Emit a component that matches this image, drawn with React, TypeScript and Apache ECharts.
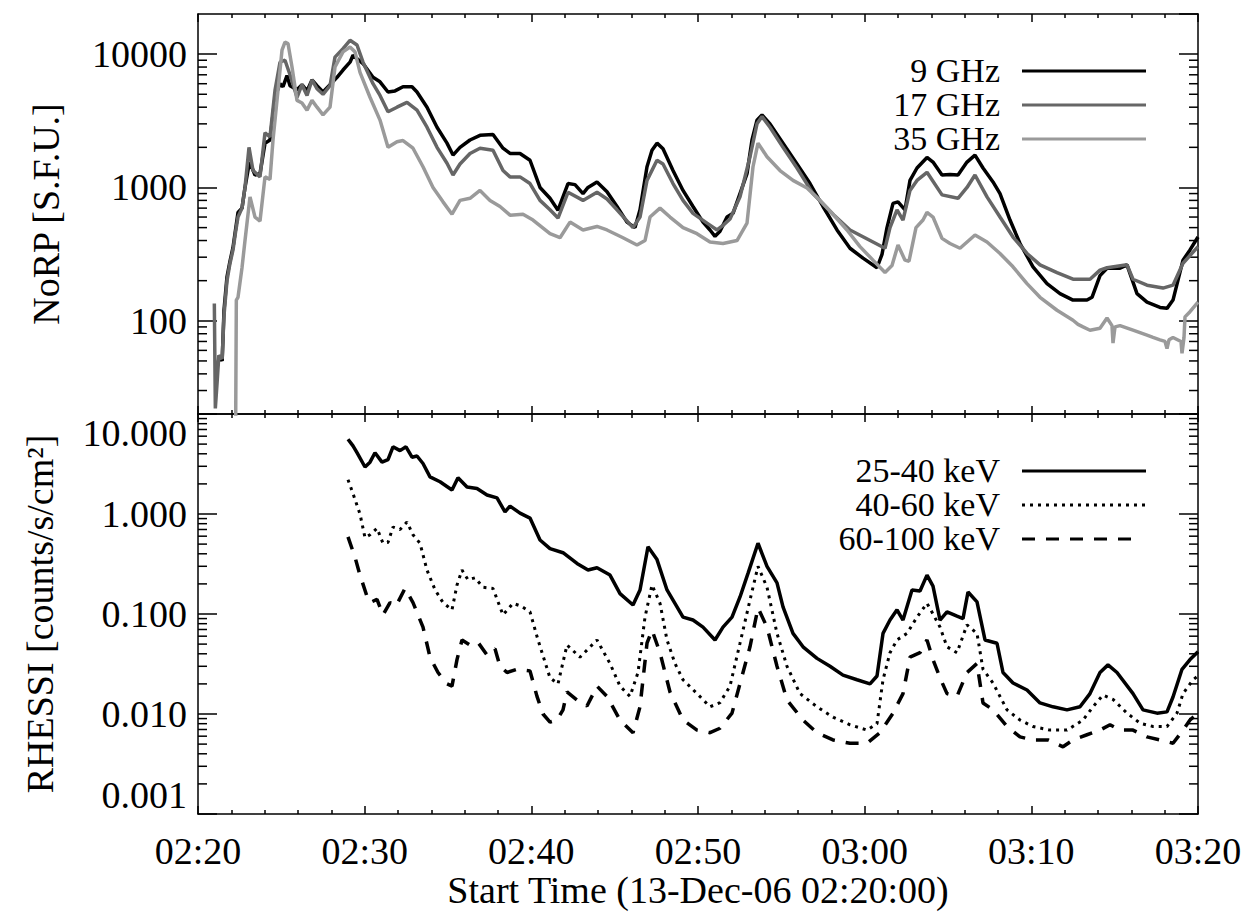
import React, { useEffect, useRef } from 'react';
import * as echarts from 'echarts';

const FONT = 'Liberation Serif, Times New Roman, Times, serif';

const xTickLabels = ['02:20', '02:30', '02:40', '02:50', '03:00', '03:10', '03:20'];
const minorTop = [30, 40, 50, 60, 70, 80, 90, 200, 300, 400, 500, 600, 700, 800, 900, 2000, 3000, 4000, 5000, 6000, 7000, 8000, 9000];
const minorBottom = [0.002, 0.003, 0.004, 0.005, 0.006, 0.007, 0.008, 0.009, 0.02, 0.03, 0.04, 0.05, 0.06, 0.07, 0.08, 0.09, 0.2, 0.3, 0.4, 0.5, 0.6, 0.7, 0.8, 0.9, 2, 3, 4, 5, 6, 7, 8, 9];

const topNames = ['9 GHz', '17 GHz', '35 GHz'];
const bottomNames = ['25-40 keV', '40-60 keV', '60-100 keV'];

// [minutes after 02:20, S.F.U.]
const ghz9 = [[1.15,45],[1.3,55],[1.45,50],[1.56,120],[1.74,214],[1.92,280],[2.1,355],[2.25,480],[2.4,650],[2.64,700],[2.82,1000],[3.0,1350],[3.1,1550],[3.42,1240],[3.72,1270],[4.02,2150],[4.32,2270],[4.62,4750],[4.92,6000],[5.1,5700],[5.34,6900],[5.52,5800],[5.94,5400],[6.24,5900],[6.54,5300],[6.84,6400],[7.14,5800],[7.5,5200],[7.92,5900],[8.34,6700],[8.7,7600],[9.12,8700],[9.3,9800],[9.9,8500],[10.5,6700],[10.92,6200],[11.4,5200],[11.82,5300],[12.3,5700],[12.84,5700],[13.14,5200],[13.74,4000],[14.34,2830],[14.94,2150],[15.3,1750],[15.72,2000],[16.32,2270],[16.92,2460],[17.7,2500],[18.3,1970],[18.72,1800],[19.32,1800],[19.92,1600],[20.52,1000],[21.12,830],[21.6,675],[22.2,1070],[22.62,1050],[23.1,900],[23.4,1000],[23.94,1100],[24.54,930],[25.14,720],[25.74,550],[26.22,500],[26.52,680],[26.94,1430],[27.24,1900],[27.54,2150],[27.9,1950],[28.5,1340],[29.1,950],[29.7,720],[30.3,550],[30.72,480],[31.02,430],[31.32,470],[31.74,600],[32.1,640],[32.52,900],[32.94,1270],[33.24,2270],[33.54,3200],[33.84,3500],[34.32,3000],[35.1,2150],[35.94,1500],[36.72,1070],[37.5,720],[38.34,480],[39.12,350],[39.9,295],[40.74,250],[41.04,315],[41.34,500],[41.7,760],[42.0,780],[42.42,680],[42.72,1130],[43.14,1400],[43.74,1680],[44.1,1550],[44.64,1240],[45.12,1250],[45.6,1240],[46.14,1550],[46.62,1750],[47.1,1400],[47.7,1100],[48.12,900],[48.72,570],[49.32,380],[50.1,254],[50.94,190],[51.72,160],[52.5,143],[53.34,143],[53.64,150],[54.12,218],[54.54,248],[55.32,248],[55.74,263],[56.34,160],[56.94,138],[57.72,126],[58.14,124],[58.5,143],[59.1,285],[59.52,340],[60,425]];
const ghz17 = [[0.98,135],[1.04,22],[1.15,35],[1.25,55],[1.45,52],[1.56,110],[1.74,200],[1.92,270],[2.1,340],[2.25,460],[2.4,600],[2.64,700],[2.82,1000],[3.06,2000],[3.3,1340],[3.72,1200],[4.02,2570],[4.32,2400],[4.62,5350],[4.92,8700],[5.22,9000],[5.52,7000],[5.94,4750],[6.24,5900],[6.54,4900],[6.84,6400],[7.14,5500],[7.5,5000],[7.92,5800],[8.22,9500],[8.7,11000],[9.12,12700],[9.54,11700],[9.9,8700],[10.5,6000],[10.92,4900],[11.4,3700],[11.94,4000],[12.54,4350],[13.14,3800],[13.74,2830],[14.34,2000],[14.94,1520],[15.3,1240],[15.72,1500],[16.32,1800],[16.92,1970],[17.7,1900],[18.3,1340],[18.72,1200],[19.32,1200],[19.92,1070],[20.52,800],[21.12,680],[21.6,590],[22.2,920],[23.1,800],[23.94,920],[24.54,820],[25.14,680],[26.1,500],[26.52,600],[26.94,1130],[27.54,1600],[27.9,1500],[28.5,1070],[29.1,800],[29.7,640],[30.54,540],[31.14,480],[31.5,520],[31.92,580],[32.52,850],[33.12,1700],[33.54,3000],[33.84,3400],[34.32,2830],[35.1,2000],[35.94,1400],[36.9,900],[38.1,630],[39.12,480],[41.22,350],[41.52,500],[41.94,680],[42.3,570],[42.72,950],[43.14,1130],[43.74,1300],[44.64,880],[45.6,830],[46.14,1000],[46.62,1240],[47.34,850],[48.12,600],[48.9,425],[49.74,320],[50.52,263],[51.54,230],[52.5,205],[53.52,205],[54.12,240],[54.54,250],[55.74,263],[56.1,205],[56.94,185],[57.9,176],[58.5,185],[59.1,270],[60,360]];
const ghz35 = [[2.25,10],[2.3,143],[2.4,150],[2.64,250],[2.82,400],[3.12,850],[3.42,600],[3.72,560],[4.02,1200],[4.32,1150],[4.5,2270],[4.8,5350],[5.04,10700],[5.22,12300],[5.4,12000],[5.64,8000],[5.94,4500],[6.24,4300],[6.54,3800],[6.84,4500],[7.14,4000],[7.5,3500],[7.92,4000],[8.22,8000],[8.7,10400],[9.12,11300],[9.42,10400],[9.72,7300],[10.32,4750],[10.92,3200],[11.4,2000],[11.94,2200],[12.3,2250],[12.9,1970],[13.5,1430],[14.1,1000],[14.7,780],[15.24,630],[15.72,800],[16.32,830],[16.92,950],[17.52,800],[18.12,720],[18.72,620],[19.5,630],[20.1,570],[21.12,450],[21.72,420],[22.32,550],[23.1,480],[23.94,510],[24.54,480],[25.5,420],[26.34,370],[26.82,400],[27.12,600],[27.72,700],[28.32,600],[29.1,500],[29.94,450],[30.72,390],[31.5,380],[32.34,400],[32.94,540],[33.3,1430],[33.6,2150],[34.14,1700],[34.92,1340],[35.7,1130],[36.54,990],[37.32,800],[38.1,630],[38.94,480],[39.72,360],[40.5,285],[41.22,230],[41.64,260],[42.0,370],[42.42,285],[42.66,280],[43.08,500],[43.5,570],[43.74,650],[44.1,600],[44.64,415],[45.12,380],[45.72,350],[46.62,440],[47.34,390],[48.12,320],[48.9,254],[49.74,190],[50.52,150],[51.54,120],[52.5,101],[52.8,94],[53.1,90],[53.52,85],[54.12,88],[54.54,105],[54.84,92],[54.9,68],[55.02,90],[55.32,92],[56.1,85],[56.94,78],[57.3,75],[57.72,72],[58.02,70],[58.14,62],[58.26,72],[58.5,75],[58.98,70],[59.04,57],[59.16,75],[59.22,107],[59.52,117],[60,138]];

// [minutes after 02:20, counts/s/cm^2]
const kev25_40 = [[9.0,5.6],[9.3,4.8],[9.54,4.1],[10.02,2.95],[10.32,3.3],[10.62,4.1],[11.04,3.3],[11.4,3.5],[11.7,4.7],[12.12,4.3],[12.48,4.7],[12.84,3.7],[13.14,3.8],[13.5,3.2],[13.92,2.35],[14.52,2.1],[15.24,1.74],[15.6,2.3],[16.14,1.86],[16.74,1.8],[17.34,1.55],[17.94,1.45],[18.42,1.05],[18.72,1.2],[19.32,1.02],[19.92,0.91],[20.52,0.55],[21.12,0.45],[21.9,0.41],[22.74,0.32],[23.4,0.275],[23.94,0.29],[24.72,0.245],[25.32,0.16],[26.1,0.123],[26.52,0.174],[27.0,0.47],[27.54,0.35],[28.14,0.174],[28.74,0.118],[29.1,0.093],[29.7,0.087],[30.3,0.074],[31.02,0.055],[31.5,0.074],[32.04,0.093],[32.52,0.148],[33.0,0.255],[33.6,0.51],[34.14,0.3],[34.74,0.205],[35.1,0.118],[35.7,0.064],[36.3,0.047],[37.14,0.036],[37.92,0.03],[38.7,0.0245],[39.54,0.022],[40.32,0.02],[40.74,0.024],[41.1,0.064],[41.52,0.087],[41.94,0.11],[42.3,0.087],[42.84,0.174],[43.32,0.17],[43.74,0.245],[44.1,0.19],[44.52,0.087],[44.94,0.105],[45.54,0.095],[45.9,0.09],[46.2,0.166],[46.74,0.132],[47.22,0.055],[47.94,0.051],[48.3,0.026],[48.9,0.0204],[49.74,0.0174],[50.52,0.0129],[51.3,0.0118],[52.14,0.011],[52.92,0.0118],[53.52,0.016],[54.12,0.026],[54.6,0.031],[55.14,0.026],[56.1,0.016],[56.7,0.011],[57.54,0.0102],[58.14,0.0105],[58.5,0.0148],[59.04,0.028],[59.52,0.035],[60,0.042]];
const kev40_60 = [[9.0,2.2],[9.3,1.6],[9.72,1.0],[10.02,0.58],[10.32,0.62],[10.74,0.72],[11.1,0.51],[11.4,0.52],[11.7,0.74],[12.12,0.7],[12.54,0.83],[12.9,0.62],[13.32,0.51],[13.74,0.275],[14.22,0.175],[14.7,0.13],[15.24,0.11],[15.54,0.195],[15.84,0.275],[16.2,0.22],[16.62,0.23],[17.1,0.185],[17.7,0.18],[18.3,0.098],[18.9,0.128],[19.38,0.12],[19.92,0.105],[20.4,0.055],[21.12,0.023],[21.6,0.02],[22.14,0.049],[22.92,0.037],[23.94,0.055],[24.72,0.032],[25.32,0.019],[25.92,0.015],[26.4,0.026],[26.82,0.093],[27.24,0.195],[27.72,0.128],[28.14,0.055],[28.62,0.032],[29.1,0.022],[29.94,0.016],[30.72,0.0118],[31.32,0.013],[31.92,0.019],[32.52,0.051],[33.12,0.138],[33.6,0.3],[34.14,0.185],[34.74,0.064],[35.34,0.03],[36.12,0.016],[37.14,0.0118],[38.1,0.0093],[39.12,0.0078],[40.14,0.0069],[40.74,0.008],[41.1,0.022],[41.52,0.041],[41.94,0.055],[42.54,0.064],[43.14,0.093],[43.74,0.128],[44.1,0.1],[44.52,0.074],[44.94,0.047],[45.54,0.041],[46.14,0.078],[46.74,0.064],[47.1,0.028],[47.7,0.0204],[48.54,0.011],[49.32,0.0087],[50.1,0.0075],[51.12,0.0069],[52.14,0.0069],[53.1,0.0087],[53.7,0.0118],[54.3,0.0155],[54.9,0.014],[55.74,0.0102],[56.52,0.0081],[57.3,0.0075],[58.14,0.0075],[58.74,0.0102],[59.1,0.016],[59.7,0.022],[60,0.024]];
const kev60_100 = [[9.0,0.59],[9.42,0.37],[9.72,0.245],[10.14,0.15],[10.32,0.13],[10.74,0.14],[11.1,0.098],[11.52,0.13],[11.88,0.12],[12.42,0.18],[12.9,0.13],[13.5,0.074],[13.92,0.037],[14.4,0.026],[14.94,0.02],[15.24,0.019],[15.54,0.035],[15.84,0.055],[16.32,0.049],[16.8,0.052],[17.34,0.039],[17.82,0.045],[18.12,0.03],[18.54,0.026],[19.14,0.028],[19.92,0.027],[20.34,0.015],[20.7,0.01],[21.12,0.0083],[21.54,0.0087],[21.9,0.011],[22.14,0.0166],[22.74,0.0138],[23.34,0.012],[23.94,0.019],[24.54,0.015],[25.32,0.0087],[26.1,0.0065],[26.52,0.0118],[26.94,0.051],[27.24,0.069],[27.72,0.041],[28.32,0.0166],[29.1,0.0087],[29.94,0.0069],[30.72,0.0065],[31.32,0.0072],[32.04,0.0102],[32.7,0.026],[33.12,0.047],[33.6,0.115],[34.14,0.074],[34.74,0.03],[35.34,0.0138],[36.3,0.0087],[37.14,0.0065],[38.1,0.0055],[39.12,0.0051],[40.14,0.0051],[40.92,0.0065],[41.7,0.0102],[42.3,0.016],[42.72,0.037],[43.32,0.041],[43.74,0.055],[44.1,0.035],[44.52,0.023],[44.94,0.016],[45.54,0.015],[46.14,0.026],[46.74,0.032],[47.1,0.0129],[47.7,0.011],[48.54,0.0075],[49.32,0.0059],[50.1,0.0055],[51.0,0.0055],[51.9,0.0047],[52.5,0.0055],[53.34,0.0062],[54.12,0.0069],[54.72,0.0078],[55.32,0.0069],[56.1,0.0069],[56.94,0.0059],[57.72,0.0055],[58.5,0.0051],[59.1,0.0069],[59.52,0.0087],[60,0.0102]];

const BLACK = '#000000';
const GRAY_DARK = '#666666';
const GRAY_LIGHT = '#9a9a9a';

const topColors = [BLACK, GRAY_DARK, GRAY_LIGHT];
const bottomDashes: (number[] | null)[] = [null, [3, 5], [13, 11]];

export default function App() {
  const ref = useRef<HTMLDivElement>(null);

  useEffect(() => {
    if (!ref.current) return;
    const chart = echarts.init(ref.current, null, { renderer: 'svg' });

    const lineSt = { color: BLACK, width: 1.5 };
    const axisLine = { show: true, onZero: false, lineStyle: lineSt };
    const textBase = { fontFamily: FONT, fontSize: 38, color: BLACK };

    const xAx = (gridIndex: number, position: string, labels: boolean): any => ({
      type: 'value',
      gridIndex,
      position,
      min: 0,
      max: 60,
      interval: 10,
      axisLine,
      axisTick: { show: true, inside: true, length: 8, lineStyle: lineSt },
      minorTick: { show: true, splitNumber: 5, length: 4, lineStyle: lineSt },
      splitLine: { show: false },
      minorSplitLine: { show: false },
      axisLabel: labels
        ? { show: true, ...textBase, margin: 18, formatter: (v: number) => xTickLabels[Math.round(v / 10)] }
        : { show: false },
      ...(labels
        ? {
            name: 'Start Time (13-Dec-06 02:20:00)',
            nameLocation: 'middle',
            nameGap: 52,
            nameTextStyle: textBase,
          }
        : {}),
    });

    const yAx = (gridIndex: number, position: string, min: number, max: number, extra: any): any => ({
      type: 'log',
      logBase: 10,
      gridIndex,
      position,
      min,
      max,
      axisLine,
      axisTick: { show: true, inside: true, length: 19, lineStyle: lineSt },
      minorTick: { show: false },
      splitLine: { show: false },
      minorSplitLine: { show: false },
      axisLabel: { show: false },
      ...extra,
    });

    const minorTicks = (xIdx: number, yIdx: number, vals: number[]): any => ({
      type: 'custom',
      xAxisIndex: xIdx,
      yAxisIndex: yIdx,
      silent: true,
      z: 1,
      data: vals.map((v) => [0, v]),
      renderItem: (params: any, api: any) => {
        const cs = params.coordSys;
        const y = api.coord([0, api.value(1)])[1];
        const st = { stroke: BLACK, lineWidth: 1.5 };
        return {
          type: 'group',
          children: [
            { type: 'line', shape: { x1: cs.x, y1: y, x2: cs.x + 9, y2: y }, style: st },
            { type: 'line', shape: { x1: cs.x + cs.width - 9, y1: y, x2: cs.x + cs.width, y2: y }, style: st },
          ],
        };
      },
    });

    const lineSeries = (name: string, data: number[][], color: string, xIdx: number, yIdx: number, type: any, width: number): any => ({
      type: 'line',
      name,
      data,
      xAxisIndex: xIdx,
      yAxisIndex: yIdx,
      showSymbol: false,
      symbol: 'none',
      z: 3,
      lineStyle: { color, width, type },
      itemStyle: { color },
    });

    // legend drawn as graphic: right-aligned label + sample line
    const legendEntry = (name: string, y: number, color: string, dash: number[] | null, x2: number): any[] => [
      {
        type: 'text',
        x: 1000,
        y: y - 1,
        style: {
          text: name,
          fill: BLACK,
          fontSize: 34,
          fontFamily: FONT,
          lineHeight: 30,
          align: 'right',
          verticalAlign: 'middle',
          textAlign: 'right',
          textVerticalAlign: 'middle',
        },
      },
      {
        type: 'line',
        shape: { x1: 1022, y1: y, x2, y2: y },
        style: { stroke: color, lineWidth: 3, lineDash: dash || undefined },
      },
    ];

    const topY = [71, 105, 139];
    const botY = [471, 505, 539];
    const graphicEls: any[] = [];
    topNames.forEach((n, i) => graphicEls.push(...legendEntry(n, topY[i], topColors[i], null, 1146)));
    bottomNames.forEach((n, i) => graphicEls.push(...legendEntry(n, botY[i], BLACK, bottomDashes[i], i === 2 ? 1133 : 1146)));

    const option: any = {
      animation: false,
      backgroundColor: '#ffffff',
      grid: [
        { left: 198, top: 14, width: 1000, height: 400, containLabel: false },
        { left: 198, top: 414, width: 1000, height: 400, containLabel: false },
      ],
      graphic: graphicEls,
      xAxis: [xAx(0, 'bottom', false), xAx(0, 'top', false), xAx(1, 'bottom', true), xAx(1, 'top', false)],
      yAxis: [
        yAx(0, 'left', 20, 20000, {
          axisLabel: {
            show: true,
            ...textBase,
            margin: 11,
            showMinLabel: false,
            showMaxLabel: false,
            formatter: (v: number) => String(Math.round(v)),
          },
          name: 'NoRP [S.F.U.]',
          nameLocation: 'middle',
          nameRotate: 90,
          nameGap: 133,
          nameTextStyle: textBase,
        }),
        yAx(0, 'right', 20, 20000, {}),
        yAx(1, 'left', 0.001, 10, {
          axisLabel: {
            show: true,
            ...textBase,
            margin: 11,
            verticalAlignMaxLabel: 'top',
            verticalAlignMinLabel: 'bottom',
            formatter: (v: number) => v.toFixed(3),
          },
          name: 'RHESSI [counts/s/cm²]',
          nameLocation: 'middle',
          nameRotate: 90,
          nameGap: 139,
          nameTextStyle: textBase,
        }),
        yAx(1, 'right', 0.001, 10, {}),
      ],
      series: [
        minorTicks(0, 0, minorTop),
        minorTicks(2, 2, minorBottom),
        lineSeries(topNames[0], ghz9, BLACK, 0, 0, 'solid', 3.5),
        lineSeries(topNames[1], ghz17, GRAY_DARK, 0, 0, 'solid', 3.5),
        lineSeries(topNames[2], ghz35, GRAY_LIGHT, 0, 0, 'solid', 3.5),
        lineSeries(bottomNames[0], kev25_40, BLACK, 2, 2, 'solid', 3.5),
        lineSeries(bottomNames[1], kev40_60, BLACK, 2, 2, bottomDashes[1], 3),
        lineSeries(bottomNames[2], kev60_100, BLACK, 2, 2, bottomDashes[2], 3.5),
      ],
    };

    chart.setOption(option);
    return () => chart.dispose();
  }, []);

  return <div ref={ref} style={{ position: 'fixed', left: 0, top: 0, width: 1248, height: 913 }} />;
}
